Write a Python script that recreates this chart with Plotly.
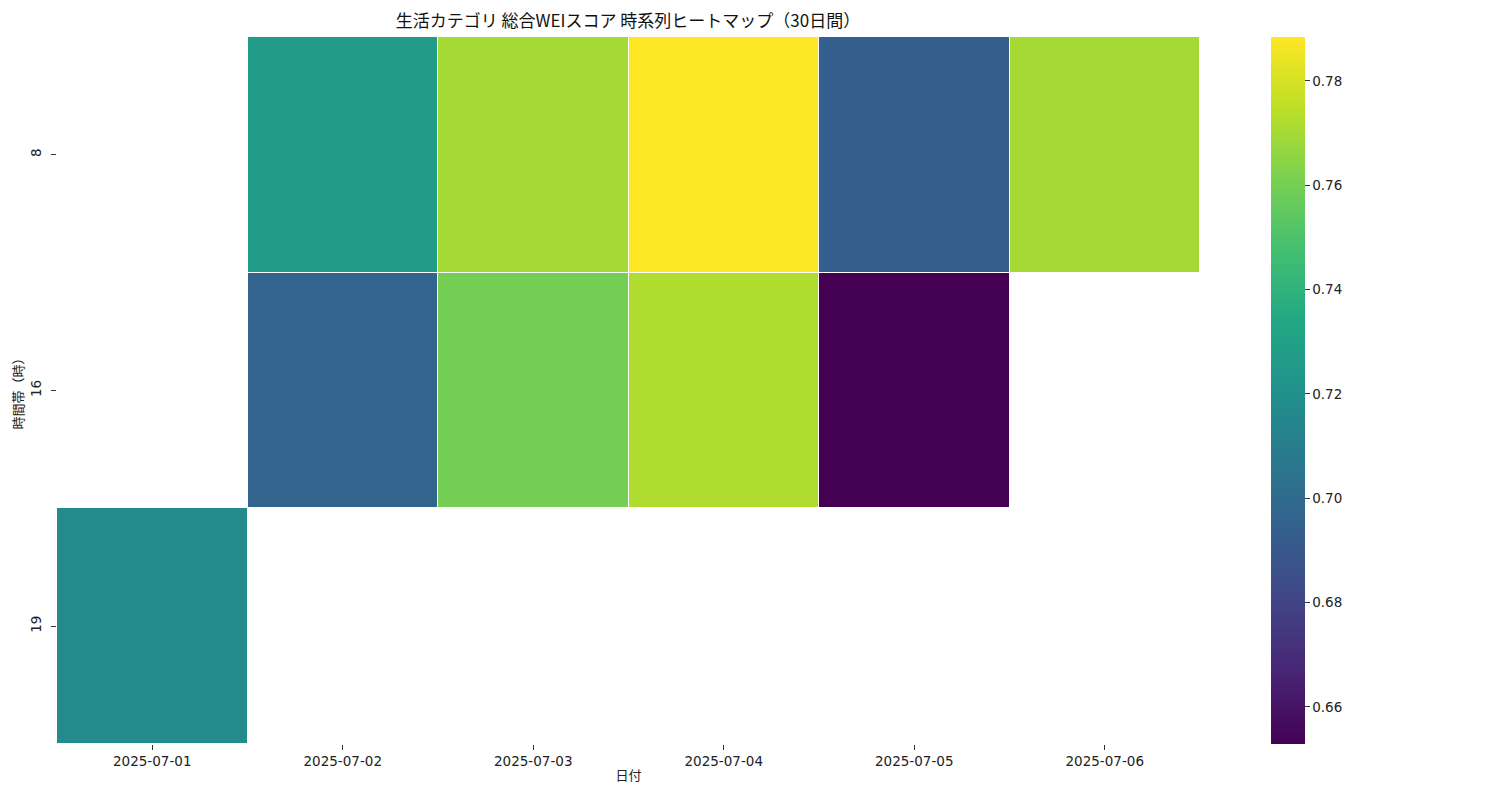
import plotly.graph_objects as go

dates = ["2025-07-01", "2025-07-02", "2025-07-03", "2025-07-04", "2025-07-05", "2025-07-06"]
hours = ["8", "16", "19"]
row_8 = [None, 0.727, 0.770, 0.7884, 0.694, 0.770]
row_16 = [None, 0.696, 0.760, 0.772, 0.6529, None]
row_19 = [0.7173, None, None, None, None, None]
cbar_ticks = [0.66, 0.68, 0.70, 0.72, 0.74, 0.76, 0.78]

viridis_hex = ["#440154", "#482475", "#414487", "#355f8d", "#2a788e", "#21918c",
               "#22a884", "#44bf70", "#7ad151", "#bddf26", "#fde725"]
colorscale = [[i / (len(viridis_hex) - 1), c] for i, c in enumerate(viridis_hex)]

CJK = "Noto Sans CJK JP"
NUM = "DejaVu Sans, Noto Sans CJK JP"

W, H = 1492, 792

fig = go.Figure(go.Heatmap(
    x=dates,
    y=hours,
    z=[row_8, row_16, row_19],
    colorscale=colorscale,
    zmin=0.6529,
    zmax=0.7884,
    xgap=1,
    ygap=1,
    hoverongaps=False,
    colorbar=dict(
        x=1.0621, xanchor="left",
        y=0.5, yanchor="middle", len=1, lenmode="fraction",
        ypad=0, xpad=0,
        thickness=34, outlinewidth=0,
        tickvals=cbar_ticks,
        ticktext=[f"{v:.2f}" for v in cbar_ticks],
        ticks="outside", ticklen=5, tickcolor="#333",
        tickfont=dict(family=NUM, size=13.5, color="#222"),
    ),
))

fig.update_layout(
    width=W, height=H,
    margin=dict(l=49, r=300, t=29, b=56, autoexpand=False),
    paper_bgcolor="white",
    plot_bgcolor="white",
    font=dict(family=CJK, color="#222"),
    title=dict(
        text="生活カテゴリ 総合WEIスコア 時系列ヒートマップ（30日間）",
        x=620 / W, xanchor="center", xref="container",
        y=1 - 13 / H, yanchor="middle",
        font=dict(family=CJK, size=17, color="#111"),
    ),
)
fig.update_xaxes(
    type="category", showgrid=False, zeroline=False, showline=False, automargin=False,
    ticks="outside", ticklen=5, tickcolor="#333",
    tickfont=dict(family=NUM, size=13.5),
    title=dict(text="日付", font=dict(family=CJK, size=13), standoff=2),
)
fig.update_yaxes(
    type="category", autorange="reversed", showgrid=False, zeroline=False, showline=False,
    automargin=False,
    ticks="outside", ticklen=5, tickcolor="#333", tickangle=-90, ticklabelstandoff=5,
    tickfont=dict(family=NUM, size=13.5),
    title=dict(text="時間帯（時）", font=dict(family=CJK, size=13), standoff=4),
)

fig.write_html("out.html")
